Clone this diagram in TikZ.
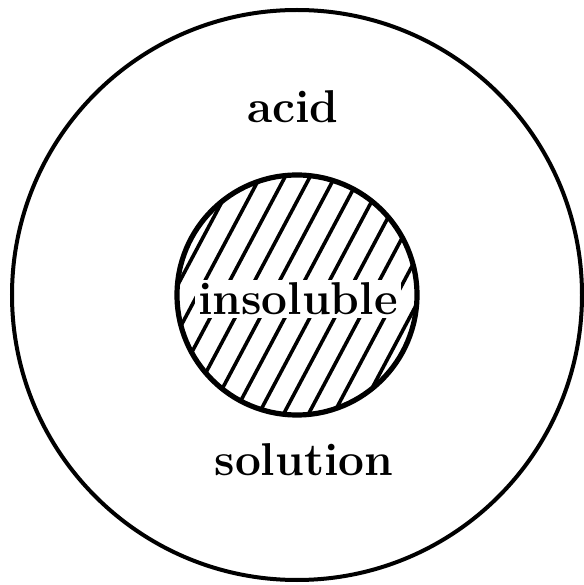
\documentclass[tikz,border=0pt]{standalone}
\usepackage{tikz}

\begin{document}
\begin{tikzpicture}[
    x=0.5pt, y=0.5pt,
    every node/.style={color=black, font=\fontsize{23}{23}\selectfont\bfseries},
    ring/.style={draw, line width=2pt},
    core/.style={draw, line width=2.6pt},
    hatchline/.style={line width=1.8pt},
    lbl/.style={anchor=base, inner sep=1.5pt}
]
\useasboundingbox (0,0) rectangle (584,585);

% --- Outer ring: the solution ---
\coordinate (ctr) at (297,290);
\draw[ring] (ctr) circle[radius=285];

% --- Hatched core ---
\begin{scope}
  \clip (ctr) circle[radius=120];
  \begin{scope}[shift={(297,290)}, rotate=62]
    \foreach \k in {-6,...,6}
      \draw[hatchline] (-140,\k*22) -- (140,\k*22);
  \end{scope}
\end{scope}

% --- Labels ---
\node[lbl] (acid) at (293,462) {acid};
\node[lbl, fill=white] (insol) at (298,270) {insoluble};
\node[lbl] (soln) at (304,110) {solution};

% core outline on top of the hatching
\draw[core] (ctr) circle[radius=120];

\end{tikzpicture}
\end{document}
